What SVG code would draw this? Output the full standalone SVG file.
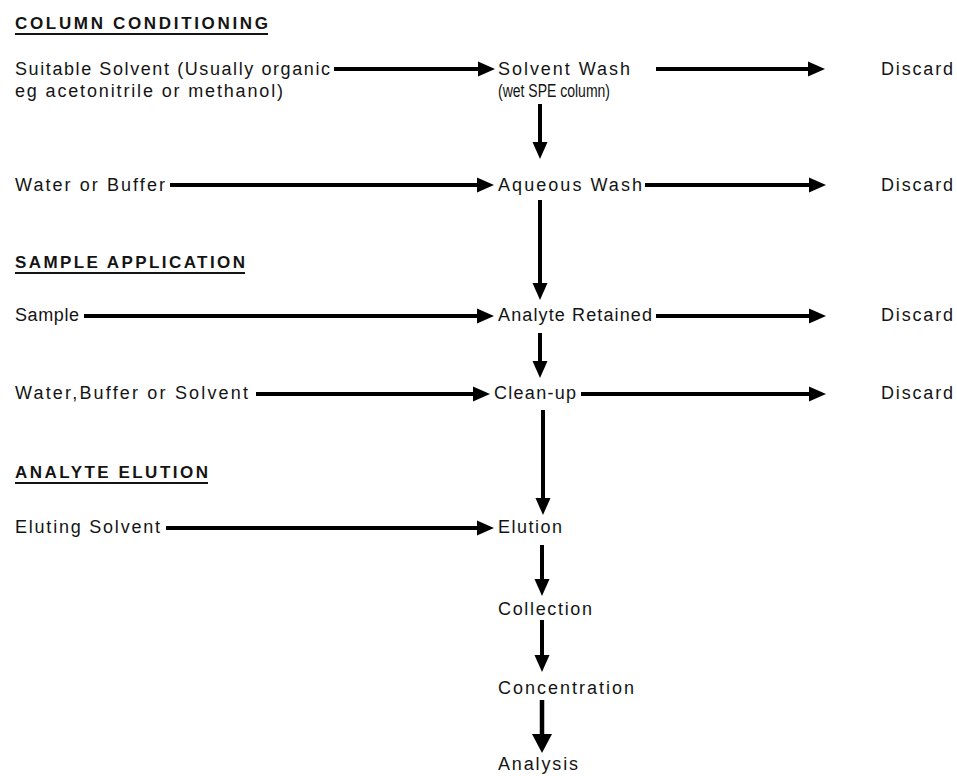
<svg xmlns="http://www.w3.org/2000/svg" width="957" height="776" viewBox="0 0 957 776">
<defs>
<marker id="ah" markerUnits="userSpaceOnUse" markerWidth="20" markerHeight="18" refX="6" refY="8" orient="auto" overflow="visible">
<path d="M0,0.5 L17,8 L0,15.5 Z" fill="#000"/>
</marker>
<marker id="ahL" markerUnits="userSpaceOnUse" markerWidth="22" markerHeight="22" refX="6" refY="10" orient="auto" overflow="visible">
<path d="M0,0 L19,10 L0,20 Z" fill="#000"/>
</marker>
<style>
text{font-family:"Liberation Sans",Arial,sans-serif;font-size:18px;fill:#141414;}
.h{font-weight:bold;font-size:17px;}
.ul{stroke:#141414;stroke-width:1.8;}
.c{stroke:#000;stroke-width:4;fill:none;marker-end:url(#ah);}
.cl{marker-end:url(#ahL);stroke-width:4.5;}
</style>
</defs>
<rect width="957" height="776" fill="#fff"/>
<g id="hdr1"><text class="h" x="15" y="29" textLength="253" lengthAdjust="spacing">COLUMN CONDITIONING</text><line class="ul" x1="15" y1="34" x2="268" y2="34"/></g>
<g id="hdr2"><text class="h" x="15" y="268" textLength="230" lengthAdjust="spacing">SAMPLE APPLICATION</text><line class="ul" x1="15" y1="273" x2="245" y2="273"/></g>
<g id="hdr3"><text class="h" x="15" y="478" textLength="193" lengthAdjust="spacing">ANALYTE ELUTION</text><line class="ul" x1="15" y1="483" x2="208" y2="483"/></g>
<g id="n_suitable"><text x="15" y="75" textLength="315" lengthAdjust="spacing">Suitable Solvent (Usually organic</text><text x="15" y="97" textLength="268" lengthAdjust="spacing">eg acetonitrile or methanol)</text></g>
<g id="n_solventwash"><text x="498" y="75" textLength="132" lengthAdjust="spacing">Solvent Wash</text><text x="498" y="97" font-size="17" textLength="112" lengthAdjust="spacingAndGlyphs">(wet SPE column)</text></g>
<g id="n_discard1"><text x="881" y="75" textLength="72" lengthAdjust="spacing">Discard</text></g>
<g id="n_water"><text x="15" y="191" textLength="150" lengthAdjust="spacing">Water or Buffer</text></g>
<g id="n_aqueous"><text x="498" y="191" textLength="144" lengthAdjust="spacing">Aqueous Wash</text></g>
<g id="n_discard2"><text x="881" y="191" textLength="72" lengthAdjust="spacing">Discard</text></g>
<g id="n_sample"><text x="15" y="321" textLength="64" lengthAdjust="spacing">Sample</text></g>
<g id="n_retained"><text x="498" y="321" textLength="154" lengthAdjust="spacing">Analyte Retained</text></g>
<g id="n_discard3"><text x="881" y="321" textLength="72" lengthAdjust="spacing">Discard</text></g>
<g id="n_wbs"><text x="15" y="399" textLength="233" lengthAdjust="spacing">Water,Buffer or Solvent</text></g>
<g id="n_cleanup"><text x="494" y="399" textLength="82" lengthAdjust="spacing">Clean-up</text></g>
<g id="n_discard4"><text x="881" y="399" textLength="72" lengthAdjust="spacing">Discard</text></g>
<g id="n_eluting"><text x="15" y="533" textLength="145" lengthAdjust="spacing">Eluting Solvent</text></g>
<g id="n_elution"><text x="498" y="533" textLength="64" lengthAdjust="spacing">Elution</text></g>
<g id="n_collection"><text x="498" y="615" textLength="94" lengthAdjust="spacing">Collection</text></g>
<g id="n_concentration"><text x="498" y="694" textLength="136" lengthAdjust="spacing">Concentration</text></g>
<g id="n_analysis"><text x="498" y="770" textLength="80" lengthAdjust="spacing">Analysis</text></g>
<g id="connectors">
<line class="c" x1="334" y1="69" x2="484" y2="69"/>
<line class="c" x1="656" y1="69" x2="814" y2="69"/>
<line class="c" x1="540" y1="104" x2="540" y2="148"/>
<line class="c" x1="170" y1="185" x2="483" y2="185"/>
<line class="c" x1="645" y1="185" x2="815" y2="185"/>
<line class="c" x1="540" y1="200" x2="540" y2="289"/>
<line class="c" x1="84" y1="316" x2="483" y2="316"/>
<line class="c" x1="656" y1="316" x2="815" y2="316"/>
<line class="c" x1="540" y1="333" x2="540" y2="367"/>
<line class="c" x1="256" y1="394" x2="479" y2="394"/>
<line class="c" x1="581" y1="394" x2="815" y2="394"/>
<line class="c" x1="543" y1="410" x2="543" y2="504"/>
<line class="c" x1="166" y1="528" x2="483" y2="528"/>
<line class="c" x1="542" y1="545" x2="542" y2="585"/>
<line class="c" x1="542" y1="620" x2="542" y2="661"/>
<line class="c cl" x1="542" y1="700" x2="542" y2="740"/>
</g>
</svg>
